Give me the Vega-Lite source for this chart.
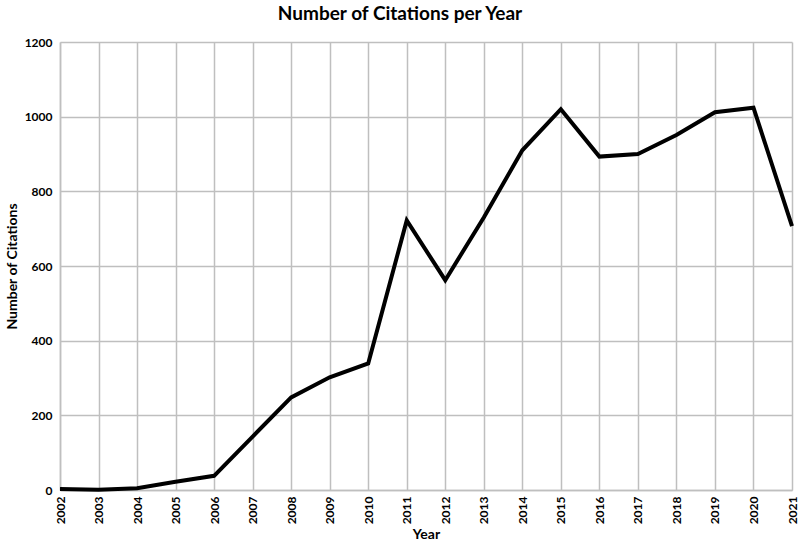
{
  "$schema": "https://vega.github.io/schema/vega-lite/v6.json",
  "autosize": {"type": "none"},
  "padding": {"left": 60, "top": 42, "right": 8, "bottom": 57},
  "width": 732,
  "height": 448,
  "background": "white",
  "title": {
    "text": "Number of Citations per Year",
    "font": "Lato",
    "fontSize": 19,
    "fontWeight": "bold",
    "color": "#000000",
    "anchor": "middle",
    "dx": -26,
    "offset": 12
  },
  "data": {
    "values": [
      {"year": 2002, "citations": 3},
      {"year": 2003, "citations": 1},
      {"year": 2004, "citations": 5},
      {"year": 2005, "citations": 22},
      {"year": 2006, "citations": 38},
      {"year": 2007, "citations": 143},
      {"year": 2008, "citations": 248},
      {"year": 2009, "citations": 302},
      {"year": 2010, "citations": 339},
      {"year": 2011, "citations": 722},
      {"year": 2012, "citations": 562},
      {"year": 2013, "citations": 730},
      {"year": 2014, "citations": 910},
      {"year": 2015, "citations": 1020},
      {"year": 2016, "citations": 893},
      {"year": 2017, "citations": 900},
      {"year": 2018, "citations": 951},
      {"year": 2019, "citations": 1012},
      {"year": 2020, "citations": 1024},
      {"year": 2021, "citations": 707}
    ]
  },
  "mark": {"type": "line", "color": "#000000", "strokeWidth": 4, "strokeJoin": "miter"},
  "encoding": {
    "x": {
      "field": "year",
      "type": "quantitative",
      "title": "Year",
      "scale": {"domain": [2002, 2021], "nice": false, "zero": false},
      "axis": {
        "values": [2002,2003,2004,2005,2006,2007,2008,2009,2010,2011,2012,2013,2014,2015,2016,2017,2018,2019,2020,2021],
        "format": "d",
        "labelAngle": -90,
        "labelAlign": "right",
        "labelBaseline": "middle",
        "labelFont": "Lato",
        "labelFontSize": 12,
        "labelFontWeight": "bold",
        "labelColor": "#000000",
        "labelPadding": 6,
        "labelOverlap": false,
        "ticks": false,
        "domainColor": "#bfbfbf",
        "domainWidth": 1.5,
        "gridColor": "#bfbfbf",
        "gridWidth": 1.5,
        "titleFont": "Lato",
        "titleFontSize": 14,
        "titleFontWeight": "bold",
        "titleColor": "#000000",
        "titlePadding": 4
      }
    },
    "y": {
      "field": "citations",
      "type": "quantitative",
      "title": "Number of Citations",
      "scale": {"domain": [0, 1200], "nice": false},
      "axis": {
        "values": [0, 200, 400, 600, 800, 1000, 1200],
        "format": "d",
        "labelFont": "Lato",
        "labelFontSize": 12,
        "labelFontWeight": "bold",
        "labelColor": "#000000",
        "labelPadding": 8,
        "ticks": false,
        "domainColor": "#bfbfbf",
        "domainWidth": 1.5,
        "gridColor": "#bfbfbf",
        "gridWidth": 1.5,
        "titleFont": "Lato",
        "titleFontSize": 14,
        "titleFontWeight": "bold",
        "titleColor": "#000000",
        "titlePadding": 5
      }
    }
  },
  "config": {"view": {"stroke": null}}
}
